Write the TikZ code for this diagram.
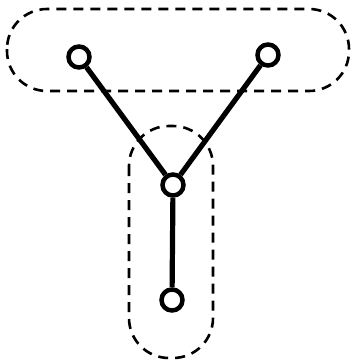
\documentclass[tikz,border=0pt]{standalone}
\begin{document}
\begin{tikzpicture}[x=1pt,y=-1pt,
  vtx/.style={circle,draw,line width=4.5pt,minimum size=21pt,inner sep=0pt,fill=white},
  edge/.style={line width=5.2pt},
  group/.style={draw,line width=2.6pt,dash pattern=on 10pt off 7pt,rounded corners=40pt}]
\useasboundingbox (0,0) rectangle (352,364);
\draw[group] (7,9) rectangle (349,91);
\draw[group] (129,126) rectangle (213,358);
\node[vtx] (a) at (79,57) {};
\node[vtx] (b) at (268,55) {};
\node[vtx] (c) at (173,185) {};
\node[vtx] (d) at (172,300) {};
\draw[edge] (a) -- (c);
\draw[edge] (b) -- (c);
\draw[edge] (c) -- (d);
\end{tikzpicture}
\end{document}
